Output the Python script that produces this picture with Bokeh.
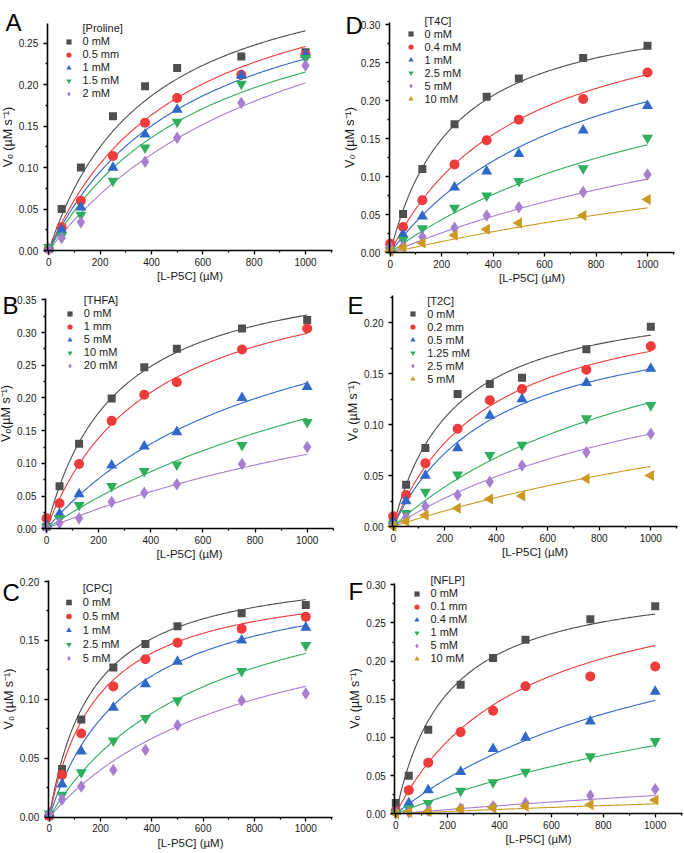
import math
from bokeh.plotting import figure
from bokeh.layouts import gridplot
from bokeh.models import (FixedTicker, PrintfTickFormatter, Legend, LegendItem,
                          Label, Range1d, ColumnDataSource)
from bokeh.embed import file_html
from bokeh.resources import INLINE

nan = float("nan")

# ---------------- data ----------------
x_conc = [0, 50, 125, 250, 375, 500, 750, 1000]
x_ticks = [0, 200, 400, 600, 800, 1000]
x_minor = [100, 300, 500, 700, 900, 1100]
x_label = "[L-P5C] (µM)"

# Panel A
A_title = "[Proline]"
A_labels = ["0 mM", "0.5 mm", "1 mM", "1.5 mM", "2 mM"]
A_v0 = [
    [0.002, 0.050, 0.100, 0.162, 0.198, 0.220, 0.234, 0.239],
    [0.002, 0.028, 0.060, 0.114, 0.154, 0.184, 0.212, 0.236],
    [0.002, 0.025, 0.052, 0.100, 0.140, 0.170, 0.211, 0.236],
    [0.004, 0.018, 0.043, 0.084, 0.124, 0.155, 0.201, 0.232],
    [0.001, 0.015, 0.034, nan, 0.107, 0.136, 0.178, 0.223],
]
A_vmax = [0.368, 0.371, 0.360, 0.351, 0.401]
A_km = [389, 508, 558, 631, 984]
A_yticks = [0.00, 0.05, 0.10, 0.15, 0.20, 0.25]
A_ylabel = "Vₒ (µM s⁻¹)"

# Panel B
B_title = "[THFA]"
B_labels = ["0 mM", "1 mm", "5 mM", "10 mM", "20 mM"]
B_v0 = [
    [0.003, 0.065, 0.130, 0.199, 0.247, 0.275, 0.306, 0.319],
    [0.016, 0.039, 0.099, 0.165, 0.205, 0.224, 0.274, 0.306],
    [0.005, 0.023, 0.053, 0.097, 0.126, 0.148, 0.200, 0.217],
    [0.003, 0.016, 0.036, 0.065, 0.088, 0.098, 0.128, 0.163],
    [0.002, 0.009, 0.016, 0.041, 0.055, 0.068, 0.099, 0.125],
]
B_vmax = [0.414, 0.420, 0.426, 0.451, 0.352]
B_km = [267, 406, 912, 1667, 2086]
B_yticks = [0.00, 0.05, 0.10, 0.15, 0.20, 0.25, 0.30, 0.35]
B_ylabel = "Vₒ(µM s⁻¹)"

# Panel C
C_title = "[CPC]"
C_labels = ["0 mM", "0.5 mM", "1 mM", "2.5 mM", "5 mM"]
C_v0 = [
    [0.001, 0.041, 0.083, 0.127, 0.147, 0.162, 0.173, 0.180],
    [0.001, 0.036, 0.071, 0.111, 0.134, 0.148, 0.160, 0.170],
    [0.003, 0.028, 0.056, 0.093, 0.113, 0.132, 0.150, 0.161],
    [0.003, 0.019, 0.038, 0.065, 0.084, 0.099, 0.124, 0.146],
    [0.003, 0.015, 0.026, 0.040, 0.057, 0.078, 0.099, 0.105],
]
C_vmax = [0.216, 0.206, 0.214, 0.2256, 0.199]
C_km = [170, 192, 314, 623, 792]
C_yticks = [0.00, 0.05, 0.10, 0.15, 0.20]
C_ylabel = "V₀ (µM s⁻¹)"

# Panel D
D_title = "[T4C]"
D_labels = ["0 mM", "0.4 mM", "1 mM", "2.5 mM", "5 mM", "10 mM"]
D_v0 = [
    [0.009, 0.051, 0.110, 0.169, 0.205, 0.229, 0.256, 0.272],
    [0.012, 0.034, 0.069, 0.116, 0.148, 0.175, 0.202, 0.237],
    [0.005, 0.024, 0.048, 0.086, 0.107, 0.130, 0.161, 0.193],
    [0.003, 0.017, 0.032, 0.059, 0.075, 0.094, 0.111, 0.151],
    [0.007, 0.009, 0.021, 0.033, 0.049, 0.060, 0.080, 0.103],
    [0.002, 0.007, 0.013, 0.023, 0.031, 0.039, 0.049, 0.070],
]
D_vmax = [0.336, 0.353, 0.350, 0.327, 0.298, 0.236]
D_km = [250, 508, 761, 1304, 2077, 3000]
D_yticks = [0.00, 0.05, 0.10, 0.15, 0.20, 0.25, 0.30]
D_ylabel = "V₀ (µM s⁻¹)"

# Panel E
E_title = "[T2C]"
E_labels = ["0 mM", "0.2 mm", "0.5 mM", "1.25 mM", "2.5 mM", "5 mM"]
E_v0 = [
    [0.004, 0.041, 0.077, 0.130, 0.140, 0.146, 0.174, 0.196],
    [0.010, 0.031, 0.062, 0.096, 0.124, 0.135, 0.154, 0.177],
    [0.005, 0.025, 0.050, 0.077, 0.109, 0.125, 0.141, 0.155],
    [0.002, 0.013, 0.034, 0.051, 0.070, 0.080, 0.106, 0.119],
    [0.002, 0.009, 0.020, 0.031, 0.044, 0.060, 0.073, 0.091],
    [0.000, 0.005, 0.011, 0.018, 0.027, 0.030, 0.047, 0.050],
]
E_vmax = [0.232, 0.237, 0.217, 0.262, 0.211, 0.2065]
E_km = [235, 377, 404, 1150, 1320, 2500]
E_yticks = [0.00, 0.05, 0.10, 0.15, 0.20]
E_ylabel = "Vₒ (µM s⁻¹)"

# Panel F
F_title = "[NFLP]"
F_labels = ["0 mM", "0.1 mm", "0.4 mM", "1 mM", "5 mM", "10 mM"]
F_v0 = [
    [0.014, 0.050, 0.110, 0.169, 0.204, 0.228, 0.255, 0.272],
    [0.004, 0.031, 0.067, 0.107, 0.135, 0.167, 0.180, 0.193],
    [0.003, 0.014, 0.031, 0.055, 0.085, 0.100, 0.121, 0.160],
    [0.001, 0.007, 0.014, 0.030, 0.041, 0.055, 0.075, 0.095],
    [0.001, 0.002, 0.004, 0.007, 0.010, 0.014, 0.024, 0.032],
    [0.000, 0.002, 0.003, 0.006, 0.008, 0.010, 0.012, 0.018],
]
F_vmax = [0.313, 0.328, 0.328, 0.2685, 0.144, 0.078]
F_km = [196, 488, 1207, 2000, 5000, 5000]
F_yticks = [0.00, 0.05, 0.10, 0.15, 0.20, 0.25, 0.30]
F_ylabel = "Vₒ (µM s⁻¹)"

# ---------------- style / layout ----------------
FONT = "Liberation Sans"
COLORS = ["#4f4f4f", "#ee3b3b", "#2f68c8", "#2fae5e", "#a67fd0", "#cc9a22"]
MARKERS = ["square", "circle", "triangle", "inverted_triangle", "diamond", "triangle"]
ANGLES = [0, 0, 0, 0, 0, math.pi / 2]
SIZES = [8, 10, 11, 11, 12.5, 11]

W1, W2 = 342, 341
H = 284


def make_panel(letter, title, labels, vals, vmax, km, yticks, ylabel,
               width, col_left, row_top, geo):
    # geo: page-pixel geometry of the panel
    x0, x1000, ax_l, ax_r = geo["x"]
    y0, yref_px, yref_val, ax_t = geo["y"]
    ppx = (x1000 - x0) / 1000.0
    ppy = (y0 - yref_px) / yref_val
    cx0 = x0 - col_left
    cy0 = y0 - row_top
    x_rng = Range1d(-cx0 / ppx, (width - cx0) / ppx)
    y_rng = Range1d(-(H - cy0) / ppy, cy0 / ppy)
    x_lo = (ax_l - x0) / ppx
    x_hi = (ax_r - x0) / ppx
    y_hi = (y0 - ax_t) / ppy

    p = figure(width=width, height=H, title=None, x_range=x_rng, y_range=y_rng,
               output_backend="svg", toolbar_location=None,
               min_border=0, min_border_left=0, min_border_right=0,
               min_border_top=0, min_border_bottom=0)
    p.xgrid.visible = False
    p.ygrid.visible = False
    p.outline_line_color = None
    p.background_fill_color = "white"
    p.border_fill_color = "white"

    step = yticks[1] - yticks[0]
    yminor = [t + step / 2 for t in yticks if t + step / 2 < y_hi]
    xminor = [t for t in x_minor if t <= x_hi]
    p.xaxis.ticker = FixedTicker(ticks=x_ticks, minor_ticks=xminor)
    p.yaxis.ticker = FixedTicker(ticks=yticks, minor_ticks=yminor)
    p.yaxis.formatter = PrintfTickFormatter(format="%.2f")
    p.xaxis.axis_label = x_label
    p.yaxis.axis_label = ylabel
    p.xaxis.fixed_location = 0
    p.yaxis.fixed_location = x_lo
    p.xaxis.bounds = (x_lo, x_hi)
    p.yaxis.bounds = (0, y_hi)
    for ax in (p.xaxis[0], p.yaxis[0]):
        ax.axis_line_width = 1.6
        ax.axis_line_color = "black"
        ax.major_tick_line_width = 1.3
        ax.minor_tick_line_width = 1.3
        ax.major_tick_out = 4
        ax.major_tick_in = 0
        ax.minor_tick_out = 2
        ax.minor_tick_in = 0
        ax.major_label_text_font = FONT
        ax.major_label_text_font_size = "10px"
        ax.major_label_text_color = "#1a1a1a"
        ax.axis_label_text_font = FONT
        ax.axis_label_text_font_style = "normal"
        ax.axis_label_text_color = "#1a1a1a"
        ax.axis_label_standoff = 1
    p.xaxis.major_label_standoff = 3
    p.yaxis.major_label_standoff = 5
    p.xaxis.axis_label_text_font_size = "11.5px"
    p.yaxis.axis_label_text_font_size = "12.5px"

    xs = list(range(0, 1001, 5))
    for i in range(len(labels)):
        ys = [vmax[i] * x / (km[i] + x) for x in xs]
        p.line(xs, ys, line_color=COLORS[i], line_width=1.1)

    items = []
    dummy = p.line(x=[], y=[], line_alpha=0)
    items.append(LegendItem(label=title, renderers=[dummy]))
    for i in range(len(labels)):
        src = ColumnDataSource(dict(x=x_conc, y=vals[i]))
        r = p.scatter("x", "y", source=src, marker=MARKERS[i], angle=ANGLES[i],
                      size=SIZES[i], fill_color=COLORS[i], line_color=None)
        items.append(LegendItem(label=labels[i], renderers=[r]))

    mark_x, title_cy, rowh = geo["legend"]
    n = len(items)
    leg_top = title_cy - row_top - rowh / 2.0
    vy = H - leg_top - rowh * n
    vx = mark_x - col_left - 14.5
    legend = Legend(items=items, location=(vx, vy), padding=0, margin=0,
                    spacing=0, glyph_height=rowh, glyph_width=29,
                    label_standoff=0, label_height=rowh,
                    label_text_font=FONT, label_text_font_size="11px",
                    label_text_color="#1a1a1a",
                    background_fill_alpha=0, border_line_alpha=0)
    p.add_layout(legend)

    lx, lb = geo["letter"]
    p.add_layout(Label(x=lx - col_left, y=H - (lb - row_top),
                       x_units="screen", y_units="screen",
                       text=letter, text_font=FONT, text_font_size="24px",
                       text_baseline="alphabetic", text_color="black"))
    return p


# page-pixel geometry
geoA = {"x": (48.3, 305.0, 46.7, 332.0), "y": (250.0, 42.7, 0.25, 22.7),
        "legend": (68.0, 28.0, 13), "letter": (5, 21.7)}
geoD = {"x": (389.7, 647.0, 388.7, 674.0), "y": (252.3, 24.0, 0.30, 22.0),
        "legend": (410.0, 20.7, 13), "letter": (345, 25.0)}
geoB = {"x": (46.0, 306.7, 45.0, 333.0), "y": (528.3, 299.3, 0.35, 298.0),
        "legend": (69.3, 300.0, 13), "letter": (2, 305.0)}
geoE = {"x": (392.7, 650.3, 392.0, 677.0), "y": (526.0, 322.3, 0.20, 295.0),
        "legend": (412.7, 300.7, 13), "letter": (347, 305.0)}
geoC = {"x": (48.7, 305.3, 47.7, 331.7), "y": (816.7, 581.0, 0.20, 580.0),
        "legend": (68.3, 587.7, 14), "letter": (2, 591.7)}
geoF = {"x": (395.3, 654.7, 394.3, 682.0), "y": (813.3, 584.3, 0.30, 583.3),
        "legend": (416.0, 580.0, 13), "letter": (348, 591.0)}

pA = make_panel("A", A_title, A_labels, A_v0, A_vmax, A_km, A_yticks, A_ylabel, W1, 0, 0, geoA)
pD = make_panel("D", D_title, D_labels, D_v0, D_vmax, D_km, D_yticks, D_ylabel, W2, W1, 0, geoD)
pB = make_panel("B", B_title, B_labels, B_v0, B_vmax, B_km, B_yticks, B_ylabel, W1, 0, H, geoB)
pE = make_panel("E", E_title, E_labels, E_v0, E_vmax, E_km, E_yticks, E_ylabel, W2, W1, H, geoE)
pC = make_panel("C", C_title, C_labels, C_v0, C_vmax, C_km, C_yticks, C_ylabel, W1, 0, 2 * H, geoC)
pF = make_panel("F", F_title, F_labels, F_v0, F_vmax, F_km, F_yticks, F_ylabel, W2, W1, 2 * H, geoF)

grid = gridplot([[pA, pD], [pB, pE], [pC, pF]], toolbar_location=None)

open("out.html", "w").write(file_html(grid, INLINE))
